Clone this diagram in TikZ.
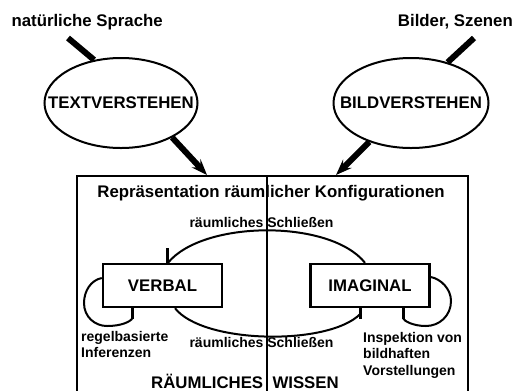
\documentclass[tikz,border=0pt]{standalone}
\usepackage{fontspec}
\setmainfont{Liberation Sans}
\usetikzlibrary{shapes.geometric,arrows.meta}
\begin{document}
\begin{tikzpicture}[x=1bp,y=-1bp,
  big/.style={font=\fontsize{16.8bp}{20bp}\selectfont\bfseries},
  small/.style={font=\fontsize{14bp}{16.5bp}\selectfont\bfseries},
  oval/.style={draw, ellipse, line width=2bp, inner sep=0pt, minimum width=153bp, minimum height=90bp, big},
  modbox/.style={draw, rectangle, line width=2.4bp, minimum width=119bp, minimum height=43bp, inner sep=0pt, big, fill=white},
  fatline/.style={line width=6bp},
  fatarrow/.style={line width=6bp, -{Stealth[length=16bp,width=12bp,inset=6bp]}},
  flow/.style={line width=2bp},
  tbar/.style={line width=3bp},
  frame/.style={line width=2.4bp},
  lbl/.style={inner sep=0pt}
]
\useasboundingbox (0,0) rectangle (516,390);
% sources
\node[big, lbl, anchor=base east] (src1) at (163,26) {natürliche Sprache};
\node[big, lbl, anchor=base east] (src2) at (513,26) {Bilder, Szenen};
% understanding processes
\node[oval] (tv) at (121,103) {\makebox[0pt]{TEXTVERSTEHEN}};
\node[oval, minimum width=155bp] (bv) at (411,103) {\makebox[0pt]{BILDVERSTEHEN}};
\coordinate (in1) at (68,38);
\coordinate (in2) at (474,38);
\coordinate (tip1) at (207,175);
\coordinate (tip2) at (336,175);
\draw[fatline] (in1) -- (tv.122);
\draw[fatline] (in2) -- (bv.48);
\draw[fatarrow] (tv.-34) -- (tip1);
\draw[fatarrow] (bv.-137) -- (tip2);
% frame
\coordinate (fbl) at (77,395);
\coordinate (ftl) at (77,176);
\coordinate (ftr) at (468,176);
\coordinate (fbr) at (468,395);
\draw[frame] (fbl) -- (ftl) -- (ftr) -- (fbr);
\node[big, lbl, anchor=base] (title) at (271,197) {Repräsentation räumlicher Konfigurationen};
% modules
\node[modbox] (verbal) at (162.5,285.5) {VERBAL};
\node[modbox] (imag) at (370,285.5) {IMAGINAL};
% spatial reasoning arcs
\draw[flow] ([xshift=-5bp]imag.north) .. controls (330,219) and (203,220) .. ([xshift=5.5bp]verbal.north);
\draw[tbar] ([xshift=5bp]verbal.north) -- ++(0,-15);
\draw[flow] ([xshift=12.5bp]verbal.south) .. controls (203,344) and (328,346) .. ([xshift=-10bp,yshift=-6bp]imag.south);
\draw[tbar] ([xshift=-10bp]imag.south) -- ++(0,11);
\node[small, lbl, anchor=base] (rs1) at (261.5,227) {räumliches Schließen};
\node[small, lbl, anchor=base] (rs2) at (261.5,347) {räumliches Schließen};
% self loops
\draw[flow] ([yshift=7.5bp]verbal.west) .. controls (91,280) and (84,291) .. (84,303)
  .. controls (84,317) and (95,326) .. (107,326)
  .. controls (121,326) and (130,322) .. ([xshift=-30bp,yshift=-10bp]verbal.south);
\draw[tbar] ([xshift=-30bp]verbal.south) -- ++(0,11);
\draw[flow] ([yshift=8.5bp]imag.east) .. controls (441,279) and (451,289) .. (451,301)
  .. controls (451,316) and (439,326) .. (426,326)
  .. controls (413,326) and (404,321) .. ([xshift=33bp,yshift=-10bp]imag.south);
\draw[tbar] ([xshift=33bp]imag.south) -- ++(0,11);
\node[small, lbl, anchor=north west, align=left] (rbi) at (81,331) {regelbasierte\\Inferenzen};
\node[small, lbl, anchor=north west, align=left] (ibv) at (363,332) {Inspektion von\\bildhaften\\Vorstellungen};
% divider
\node[big, lbl, anchor=base] (rw) at (245,388) {RÄUMLICHES\ \ WISSEN};
\coordinate (dtop) at (267,176);
\coordinate (dbot) at (267,395);
\draw[frame] (dtop) -- (dbot);
\end{tikzpicture}
\end{document}
